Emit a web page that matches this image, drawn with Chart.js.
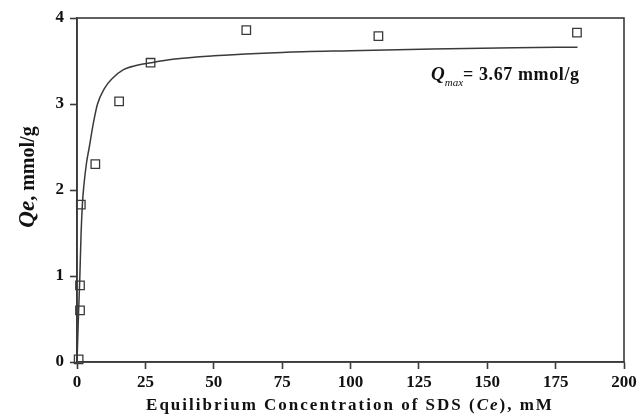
<!DOCTYPE html>
<html>
<head>
<meta charset="utf-8">
<script src="https://cdn.jsdelivr.net/npm/chart.js@4"></script>
<style>
  html, body { margin: 0; padding: 0; background: #fff; }
  #wrap { width: 641px; height: 419px; }
</style>
</head>
<body>
<div id="wrap"><canvas id="chartCanvas" width="641" height="419"></canvas></div>
<script>
// measured points (open squares)
const obsCe = [0.6, 1.1, 1.1, 1.4, 6.7, 15.4, 26.9, 61.9, 110.2, 182.8];
const obsQe = [0.03, 0.60, 0.89, 1.83, 2.30, 3.03, 3.48, 3.86, 3.79, 3.83];

// fitted curve
const fitCe = [0, 0.6, 1.0, 1.5, 2.0, 2.5, 3.5, 4.5, 6, 7.5, 10, 13, 17, 22, 27, 35, 50, 75, 100, 130, 160, 183];
const fitQe = [0, 0.6, 0.95, 1.5, 1.85, 2.05, 2.32, 2.5, 2.78, 3.0, 3.18, 3.3, 3.4, 3.45, 3.48, 3.52, 3.56, 3.6, 3.62, 3.64, 3.655, 3.66];

const xTickStep = 25;
const yTickStep = 1;
const qmaxLabel = "= 3.67 mmol/g";

const ink = '#3a3a3a';
const serif = '"Liberation Serif", "Times New Roman", serif';

function drawRuns(ctx, runs, x, y, align) {
    let total = 0;
    runs.forEach(r => {
        ctx.font = r.font;
        ctx.letterSpacing = r.spacing || '0px';
        r.w = ctx.measureText(r.text).width;
        total += r.w + (r.gap || 0);
    });
    let cx = align === 'center' ? x - total / 2 : x;
    runs.forEach(r => {
        ctx.font = r.font;
        ctx.letterSpacing = r.spacing || '0px';
        ctx.fillText(r.text, cx, y + (r.dy || 0));
        cx += r.w + (r.gap || 0);
    });
    ctx.letterSpacing = '0px';
}

const decor = {
    id: 'decor',
    afterDraw(chart) {
        const ctx = chart.ctx;
        const a = chart.chartArea;
        ctx.save();
        ctx.strokeStyle = ink;
        ctx.lineWidth = 1.6;
        ctx.strokeRect(a.left, a.top, a.right - a.left, a.bottom - a.top);
        ctx.fillStyle = '#111';
        ctx.textBaseline = 'alphabetic';

        // x title
        drawRuns(ctx, [
            { text: 'Equilibrium Concentration of SDS (', font: 'bold 17px ' + serif, spacing: '2px' },
            { text: 'Ce', font: 'italic bold 17px ' + serif, spacing: '2px' },
            { text: '), mM', font: 'bold 17px ' + serif, spacing: '2px' }
        ], 350, 410, 'center');

        // y title
        ctx.save();
        ctx.translate(34, 177);
        ctx.rotate(-Math.PI / 2);
        drawRuns(ctx, [
            { text: 'Qe', font: 'italic bold 23px ' + serif },
            { text: ', mmol/g', font: 'bold 20px ' + serif }
        ], 0, 0, 'center');
        ctx.restore();

        // Qmax annotation
        drawRuns(ctx, [
            { text: 'Q', font: 'italic bold 19px ' + serif },
            { text: 'max', font: 'italic 11px ' + serif, dy: 6 },
            { text: qmaxLabel, font: 'bold 18px ' + serif, spacing: '0.6px' }
        ], 431, 80, 'left');
        ctx.restore();
    }
};

const ctx = document.getElementById('chartCanvas').getContext('2d');
const chart = new Chart(ctx, {
    type: 'scatter',
    data: {
        datasets: [{
            label: 'Langmuir fit',
            data: fitCe.map((c, i) => ({ x: c, y: fitQe[i] })),
            showLine: true,
            borderColor: ink,
            borderWidth: 1.5,
            pointRadius: 0,
            cubicInterpolationMode: 'monotone',
            clip: false
        }, {
            label: 'Experimental',
            data: obsCe.map((c, i) => ({ x: c, y: obsQe[i] })),
            pointStyle: 'rect',
            pointRadius: 6,
            pointBorderWidth: 1.3,
            pointBorderColor: ink,
            pointBackgroundColor: 'rgba(255,255,255,0)',
            clip: false
        }]
    },
    options: {
        responsive: false,
        animation: false,
        layout: { padding: { left: 0, top: 18, right: 17, bottom: 0 } },
        plugins: { legend: { display: false }, tooltip: { enabled: false } },
        scales: {
            x: {
                type: 'linear',
                min: 0, max: 200,
                afterFit(s) { s.height = 57; },
                ticks: { stepSize: xTickStep, color: '#111', padding: 3, font: { family: serif, size: 17, weight: 'bold' } },
                grid: { drawOnChartArea: false, tickLength: 7, color: ink, tickWidth: 1.6 },
                border: { color: ink, width: 1.6 }
            },
            y: {
                min: 0, max: 4,
                afterFit(s) { s.width = 77; },
                ticks: { stepSize: yTickStep, color: '#111', padding: 6, font: { family: serif, size: 17, weight: 'bold' } },
                grid: { drawOnChartArea: false, tickLength: 7, color: ink, tickWidth: 1.6 },
                border: { color: ink, width: 1.6 }
            }
        }
    },
    plugins: [decor]
});
</script>
</body>
</html>
